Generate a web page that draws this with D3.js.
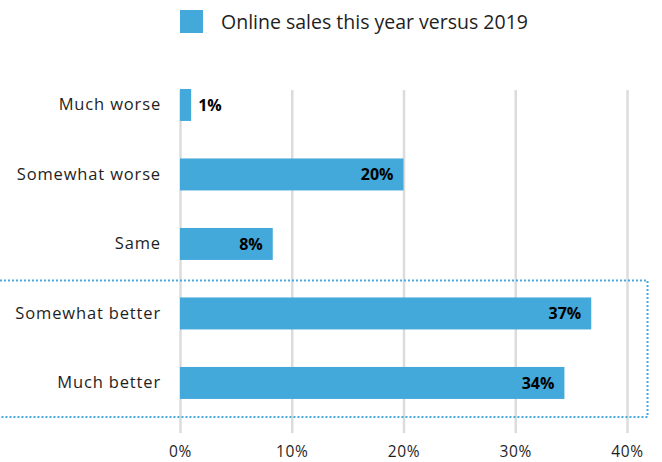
<!DOCTYPE html>
<html>
<head>
<meta charset="utf-8">
<script src="https://cdn.jsdelivr.net/npm/d3@7"></script>
<style>
  html, body { margin: 0; padding: 0; background: #fff; }
  svg { display: block; font-family: "Open Sans", sans-serif; }
</style>
</head>
<body>
<svg id="chart" width="662" height="462"></svg>
<script>
// Survey responses: online sales this year versus 2019 (percent of respondents)
const categories = ["Much worse", "Somewhat worse", "Same", "Somewhat better", "Much better"];
const values = [1.0, 20.0, 8.3, 36.8, 34.4];
const tickValues = [0, 10, 20, 30, 40];
const tickLabels = ["0%", "10%", "20%", "30%", "40%"];
const seriesName = "Online sales this year versus 2019";
const highlighted = ["Somewhat better", "Much better"];

const barColor = "#43a8da";
const gridColor = "#dcdcdc";
const textColor = "#1e1e1e";
const font = "'Open Sans', sans-serif";

const svg = d3.select("#chart");

const x = d3.scaleLinear().domain([0, 40]).range([180, 627]);
const y = d3.scaleBand().domain(categories).range([70.2, 417.7])
  .paddingInner(0.54).paddingOuter(0.27);

const gridTop = 90, gridBottom = 433;

// Vertical gridlines + percentage tick labels
const xAxis = d3.axisBottom(x)
  .tickValues(tickValues)
  .tickFormat((d, i) => tickLabels[i])
  .tickSize(-(gridBottom - gridTop))
  .tickPadding(13);

const gx = svg.append("g")
  .attr("transform", `translate(0,${gridBottom})`)
  .call(xAxis);
gx.select(".domain").remove();
gx.selectAll(".tick line").attr("stroke", gridColor).attr("stroke-width", 2.5);
gx.selectAll(".tick text")
  .attr("fill", textColor)
  .style("font-size", "15.5px")
  .style("letter-spacing", "0.6px")
  .style("font-family", font);

// Bars
svg.append("g").selectAll("rect")
  .data(categories)
  .join("rect")
  .attr("x", x(0))
  .attr("y", d => y(d))
  .attr("width", (d, i) => x(values[i]) - x(0))
  .attr("height", y.bandwidth())
  .attr("fill", barColor);

// Category labels
const yAxis = d3.axisLeft(y).tickSize(0).tickPadding(19);
const gy = svg.append("g")
  .attr("transform", `translate(${x(0)},0)`)
  .call(yAxis);
gy.select(".domain").remove();
gy.selectAll(".tick text")
  .attr("fill", textColor)
  .style("font-size", "16.5px")
  .style("letter-spacing", "0.85px")
  .style("font-family", font);

// Value labels: inside the bar end, or just outside for short bars
const fmt = v => d3.format(".0f")(v) + "%";
svg.append("g").selectAll("text")
  .data(categories)
  .join("text")
  .attr("x", (d, i) => values[i] < 5 ? x(values[i]) + 7 : x(values[i]) - 10)
  .attr("y", d => y(d) + y.bandwidth() / 2)
  .attr("dy", "0.36em")
  .attr("text-anchor", (d, i) => values[i] < 5 ? "start" : "end")
  .attr("fill", "#000")
  .style("font-family", font)
  .style("font-size", "16px")
  .style("font-weight", "700")
  .text((d, i) => fmt(values[i]));

// Dotted frame around the positive responses
const hTop = y(highlighted[0]) - 17;
const hBottom = y(highlighted[highlighted.length - 1]) + y.bandwidth() + 18;
svg.append("path")
  .attr("d", `M0,${hTop} H647.5 V${hBottom} H0`)
  .attr("fill", "none")
  .attr("stroke", "#4aaade")
  .attr("stroke-width", 2)
  .attr("stroke-dasharray", "2,2");

// Legend
const legend = svg.append("g").attr("transform", "translate(180,10)");
legend.append("rect").attr("width", 23).attr("height", 23).attr("fill", barColor);
legend.append("text")
  .attr("x", 41).attr("y", 11.5).attr("dy", "0.36em")
  .attr("fill", textColor)
  .style("font-family", font)
  .style("font-size", "19.5px")
  .text(seriesName);
</script>
</body>
</html>
